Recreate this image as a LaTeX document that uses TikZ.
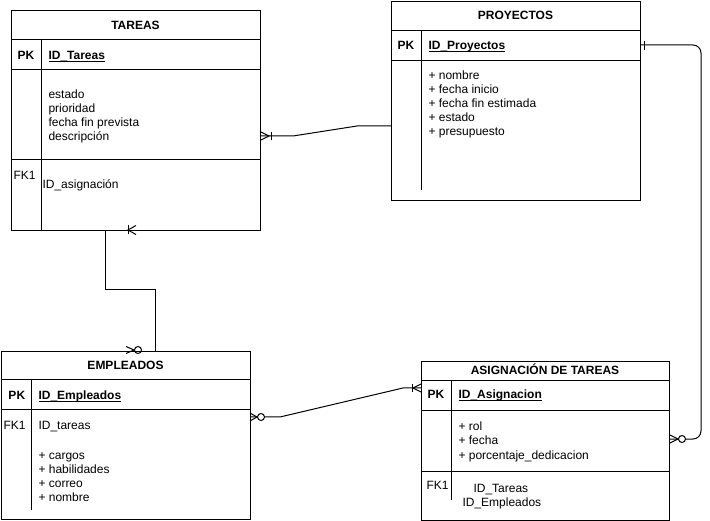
\documentclass[tikz,border=0pt]{standalone}
\usepackage{fontspec}
\setmainfont{Liberation Sans}
\newcommand\keyul[1]{\setbox0\hbox{#1}\rlap{\rule[-1.4pt]{\wd0}{0.8pt}}\box0}
\begin{document}
\begin{tikzpicture}[x=1pt,y=-1pt,line width=1pt,
  box/.style={draw,rectangle,inner sep=0pt,anchor=north west},
  txt/.style={anchor=base west,inner sep=0pt,font=\fontsize{12}{14}\selectfont},
  ttl/.style={anchor=base,inner sep=0pt,font=\fontsize{12}{14}\selectfont\bfseries},
  key/.style={anchor=base west,inner sep=0pt,font=\fontsize{12}{14}\selectfont\bfseries},
  conn/.style={draw,line width=1pt},
  circ/.style={draw,fill=white,line width=1pt}]
\useasboundingbox (0,0) rectangle (710,521);

% ---------- TAREAS ----------
\node[box,minimum width=249pt,minimum height=220pt] (tareas) at (11,10) {};
\draw (11,40) -- (260,40) (11,70) -- (260,70) (11,160) -- (260,160) (41,40) -- (41,230);
\node[ttl] (tT) at (135.5,30) {TAREAS};
\node[key] (tPK) at (17,60) {PK};
\node[key] (tID) at (48,60) {\keyul{ID\_Tareas}};
\node[txt] (t1) at (48,99) {estado};
\node[txt] (t2) at (48,113) {prioridad};
\node[txt] (t3) at (48,127) {fecha fin prevista};
\node[txt] (t4) at (48,141) {descripción};
\node[txt] (tFK) at (13,180) {FK1};
\node[txt] (t5) at (42,189) {ID\_asignación};

% ---------- PROYECTOS ----------
\node[box,minimum width=249pt,minimum height=199pt] (proy) at (391,1) {};
\draw (391,31) -- (640,31) (391,61) -- (640,61) (421,31) -- (421,190);
\node[ttl] (pT) at (515.5,20) {PROYECTOS};
\node[key] (pPK) at (397,50) {PK};
\node[key] (pID) at (428,50) {\keyul{ID\_Proyectos}};
\node[txt] (p1) at (428,80) {+ nombre};
\node[txt] (p2) at (428,94) {+ fecha inicio};
\node[txt] (p3) at (428,108) {+ fecha fin estimada};
\node[txt] (p4) at (428,122) {+ estado};
\node[txt] (p5) at (428,136) {+ presupuesto};

% ---------- EMPLEADOS ----------
\node[box,minimum width=249pt,minimum height=168pt] (emp) at (1,351) {};
\draw (1,380) -- (250,380) (1,410) -- (250,410) (31,380) -- (31,510);
\node[ttl] (eT) at (125.5,370) {EMPLEADOS};
\node[key] (ePK) at (8,400) {PK};
\node[key] (eID) at (38,400) {\keyul{ID\_Empleados}};
\node[txt] (eFK) at (3,430) {FK1};
\node[txt] (e0) at (38,430) {ID\_tareas};
\node[txt] (e1) at (38,459) {+ cargos};
\node[txt] (e2) at (38,473) {+ habilidades};
\node[txt] (e3) at (38,487) {+ correo};
\node[txt] (e4) at (38,501) {+ nombre};

% ---------- ASIGNACION DE TAREAS ----------
\node[box,minimum width=248pt,minimum height=159pt] (asig) at (421,361) {};
\draw (421,381) -- (669,381) (421,411) -- (669,411) (421,471) -- (669,471) (451,381) -- (451,500);
\node[ttl] (aT) at (545,375) {ASIGNACIÓN DE TAREAS};
\node[key] (aPK) at (427,399) {PK};
\node[key] (aID) at (458,399) {\keyul{ID\_Asignacion}};
\node[txt] (a1) at (458,431) {+ rol};
\node[txt] (a2) at (458,445) {+ fecha};
\node[txt] (a3) at (458,459) {+ porcentaje\_dedicacion};
\node[txt] (aFK) at (426,489) {FK1};
\node[txt] (a4) at (473,492) {ID\_Tareas};
\node[txt] (a5) at (462,506) {ID\_Empleados};

% ---------- connectors ----------
% TAREAS -- PROYECTOS
\coordinate (c1a) at (260,136);
\coordinate (c1b) at (391,126);
\draw[conn] (c1a) -- (293,136) -- (357,126) -- (c1b);
\draw (261,132) -- (269,136) -- (261,140);
\draw (271,132) -- (271,140);

% PROYECTOS -- ASIGNACION
\coordinate (c2a) at (640,45);
\coordinate (c2b) at (669,439);
\draw[conn,rounded corners=8pt] (c2a) -- (701,45) -- (701,439) -- (c2b);
\draw (644,41) -- (644,50);
\draw (670,435) -- (678,439) -- (670,443);
\draw[circ] (682,439) circle (3.5pt);

% TAREAS -- EMPLEADOS
\coordinate (c3a) at (105,230);
\coordinate (c3b) at (155,351);
\draw[conn] (c3a) -- (105,290) -- (155,290) -- (c3b);
\draw (128,225.5) -- (128,234.5);
\draw (136,225.5) -- (128,230) -- (136,234.5);
\draw (126,346.5) -- (134,350) -- (126,353.5);
\draw (138,350) circle (3.5pt);

% EMPLEADOS -- ASIGNACION
\coordinate (c4a) at (250,417);
\coordinate (c4b) at (421,388);
\draw[conn] (c4a) -- (280,417) -- (403,388) -- (c4b);
\draw (250,413) -- (257,417) -- (250,421);
\draw[circ] (261,417) circle (3.5pt);
\draw (421,384) -- (413,388) -- (421,392);
\draw (412,384) -- (412,392);
\end{tikzpicture}
\end{document}
